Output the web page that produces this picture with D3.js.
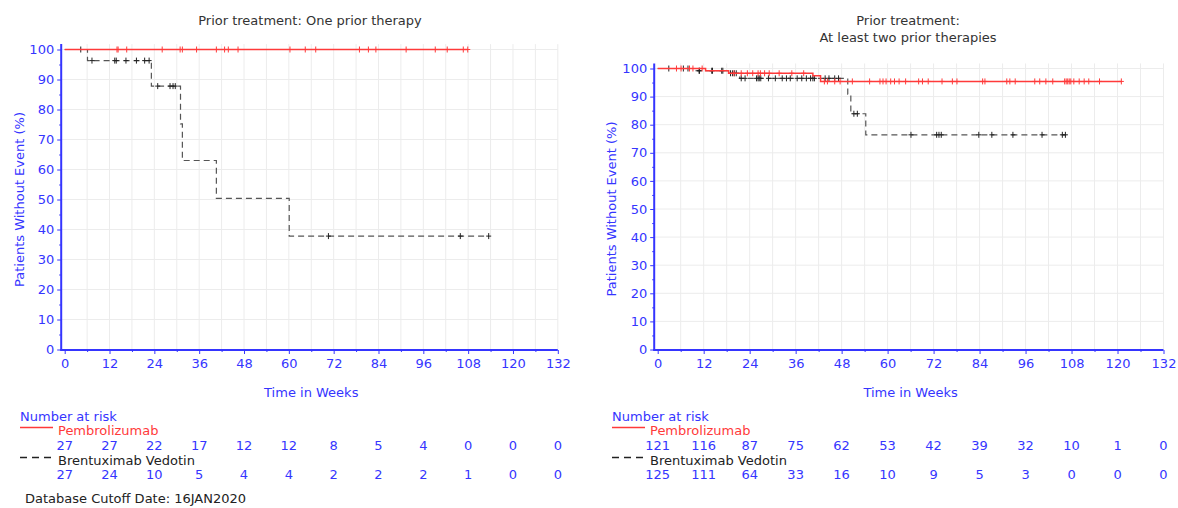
<!DOCTYPE html>
<html>
<head>
<meta charset="utf-8">
<script src="https://cdn.jsdelivr.net/npm/d3@7"></script>
<style>
  body{ margin:0; background:#fff; }
  svg{ display:block; }
  .tick text{ font-family:"DejaVu Sans", sans-serif; }
</style>
</head>
<body>
<svg id="chart" width="1178" height="508"></svg>
<script>
/* ---- datos ---- */
const timeTicks = [0,12,24,36,48,60,72,84,96,108,120,132];
const yTicks = [0,10,20,30,40,50,60,70,80,90,100];

// Panel 1: una terapia previa
const riskPembro1 = [27,27,22,17,12,12,8,5,4,0,0,0];
const riskBrent1  = [27,24,10,5,4,4,2,2,2,1,0,0];
const pembro1Steps = [[0,100]];
const pembro1End = 107.9;
const pembro1Censor = [14.0,14.3,16.6,26.1,30.9,31.5,35.3,40.6,42.8,43.8,46.4,60.3,64.4,67.2,78.9,81.3,83.3,91.4,99.2,102.4,106.7,107.9];
const brent1Steps = [[0,100],[6.1,96.3],[23.2,87.8],[31.0,75.2],[31.5,63.0],[40.6,50.4],[60.1,37.8]];
const brent1End = 113.5;
const brent1Censor = [4.3,7.3,13.4,13.8,16.4,19.2,21.4,22.6,24.9,28.2,29.0,29.6,70.6,105.9,113.5];

// Panel 2: al menos dos terapias previas
const riskPembro2 = [121,116,87,75,62,53,42,39,32,10,1,0];
const riskBrent2  = [125,111,64,33,16,10,9,5,3,0,0,0];
const pembro2Steps = [[0,100],[12.5,99.2],[18.5,98.3],[40.5,97.4],[42.5,95.4]];
const pembro2End = 121.0;
const pembro2Censor = [4.9,6.1,8.3,9.2,11.6,19.9,21.8,23.4,24.8,26.2,26.8,27.9,29.1,31.7,35.0,38.1,
  43.5,44.3,46.2,47.6,50.8,55.3,58.0,58.8,59.6,60.8,61.8,63.0,64.7,68.1,69.1,70.6,74.2,76.9,78.1,
  84.8,85.4,91.1,91.9,93.3,98.4,99.7,101.3,103.1,106.2,106.6,107.0,107.4,107.8,108.6,110.0,111.3,112.5,115.3,121.0];
const brent2Steps = [[0,100],[10.0,99.2],[18.5,98.3],[21.4,96.5],[49.6,90.9],[50.4,83.9],[54.3,76.4]];
const brent2End = 106.6;
const brent2Censor = [2.9,6.7,7.9,10.8,10.9,14.1,14.3,16.7,17.0,19.0,19.5,20.0,20.5,
  21.8,22.8,25.8,26.2,26.5,26.9,28.9,30.7,32.5,33.6,34.6,36.4,37.6,38.8,39.9,40.5,40.9,
  43.7,44.7,46.2,47.2,51.2,52.1,66.1,72.8,73.4,74.0,83.8,87.2,92.7,100.3,105.6,106.4];

/* ---- estilos ---- */
const BLUE = "#3535ff";
const RED = "#ff3a3a";
const DARK = "#555555";
const GRID = "#ececec";
const SANS = "DejaVu Sans, sans-serif";

const svg = d3.select("#chart");

const panels = [
  { title:["Prior treatment: One prior therapy"], titleX:310,
    xr:[64.7,557.8], yr:[349.5,49.5],
    legendX:20, riskP:riskPembro1, riskB:riskBrent1,
    pSteps:pembro1Steps, pEnd:pembro1End, pCens:pembro1Censor,
    bSteps:brent1Steps, bEnd:brent1End, bCens:brent1Censor },
  { title:["Prior treatment:","At least two prior therapies"], titleX:908,
    xr:[657.7,1163.5], yr:[349.5,68.5],
    legendX:612, riskP:riskPembro2, riskB:riskBrent2,
    pSteps:pembro2Steps, pEnd:pembro2End, pCens:pembro2Censor,
    bSteps:brent2Steps, bEnd:brent2End, bCens:brent2Censor }
];

/* valor de la curva escalonada en el tiempo t */
function stepValue(steps, t){
  let v = steps[0][1];
  for(const s of steps){ if(s[0] <= t) v = s[1]; }
  return v;
}

panels.forEach(p => {
  const x = d3.scaleLinear().domain([0,132]).range(p.xr);
  const y = d3.scaleLinear().domain([0,100]).range(p.yr);
  const yTop = y(101.8);
  const axX = x(0) - 3.5;
  const g = svg.append("g");

  // título
  const tt = g.append("text")
    .attr("x", p.titleX).attr("y", 25)
    .attr("text-anchor","middle")
    .style("font-family", SANS).style("font-size","13px").attr("fill","#333");
  p.title.forEach((line,i) => {
    tt.append("tspan").attr("x", p.titleX).attr("dy", i === 0 ? 0 : 16.5).text(line);
  });

  // rejilla
  g.append("g").selectAll("line").data(d3.range(6,133,6)).enter().append("line")
    .attr("x1", d => x(d)).attr("x2", d => x(d))
    .attr("y1", y(0)).attr("y2", yTop)
    .attr("stroke", GRID).attr("stroke-width",1);
  g.append("g").selectAll("line").data(yTicks.slice(1)).enter().append("line")
    .attr("x1", axX).attr("x2", x(132))
    .attr("y1", d => y(d)).attr("y2", d => y(d))
    .attr("stroke", GRID).attr("stroke-width",1);

  // eje Y
  const yAxis = g.append("g").attr("transform", `translate(${axX},0)`)
    .call(d3.axisLeft(y).tickValues(yTicks).tickSize(4).tickPadding(3));
  g.append("g").attr("transform", `translate(${axX},0)`)
    .call(d3.axisLeft(y).tickValues(d3.range(5,100,10)).tickSize(2).tickFormat(""))
    .select(".domain").remove();
  yAxis.select(".domain").remove();

  // eje X
  const xAxis = g.append("g").attr("transform", `translate(0,${y(0)+0.5})`)
    .call(d3.axisBottom(x).tickValues(timeTicks).tickSize(4).tickPadding(5));
  g.append("g").attr("transform", `translate(0,${y(0)+0.5})`)
    .call(d3.axisBottom(x).tickValues(d3.range(6,133,12)).tickSize(2).tickFormat(""))
    .select(".domain").remove();
  xAxis.select(".domain").remove();

  g.selectAll(".tick line").attr("stroke", BLUE);
  g.selectAll(".tick text").attr("fill", BLUE).style("font-size","13px");

  g.append("line").attr("x1",axX).attr("x2",axX).attr("y1",y(0)+1).attr("y2",yTop)
    .attr("stroke",BLUE).attr("stroke-width",2);
  g.append("line").attr("x1",axX-1).attr("x2",x(132)).attr("y1",y(0)+0.5).attr("y2",y(0)+0.5)
    .attr("stroke",BLUE).attr("stroke-width",2);

  // títulos de ejes
  const midY = (y(0) + y(100)) / 2;
  g.append("text")
    .attr("transform", `translate(${p.legendX - 1},${midY}) rotate(-90)`)
    .attr("text-anchor","middle").attr("dy","0.35em")
    .style("font-family",SANS).style("font-size","13px").attr("fill",BLUE)
    .text("Patients Without Event (%)");
  g.append("text")
    .attr("x", (x(0)+x(132))/2).attr("y", 397)
    .attr("text-anchor","middle")
    .style("font-family",SANS).style("font-size","13px").attr("fill",BLUE)
    .text("Time in Weeks");

  // curvas de Kaplan-Meier
  const line = d3.line().x(d => x(d[0])).y(d => y(d[1])).curve(d3.curveStepAfter);
  const series = [
    { steps:p.bSteps, end:p.bEnd, cens:p.bCens, color:DARK, dash:"6,4", w:1.2 },
    { steps:p.pSteps, end:p.pEnd, cens:p.pCens, color:RED, dash:null, w:1.5 }
  ];
  series.forEach(s => {
    const pts = s.steps.concat([[s.end, s.steps[s.steps.length-1][1]]]);
    g.append("path").attr("d", line(pts))
      .attr("fill","none").attr("stroke", s.color).attr("stroke-width", s.w)
      .attr("stroke-dasharray", s.dash);
    g.append("g").selectAll("path").data(s.cens).enter().append("path")
      .attr("transform", d => `translate(${x(d)},${y(stepValue(s.steps,d))})`)
      .attr("d","M-2.5,0H2.5M0,-3V3")
      .attr("stroke", s.color === RED ? RED : "#222").attr("stroke-width",1);
  });

  // tabla de pacientes en riesgo
  const lx = p.legendX;
  g.append("text").attr("x",lx).attr("y",421)
    .style("font-family",SANS).style("font-size","13px").attr("fill",BLUE)
    .text("Number at risk");
  g.append("line").attr("x1",lx).attr("x2",lx+33).attr("y1",427.5).attr("y2",427.5)
    .attr("stroke",RED).attr("stroke-width",1.5);
  g.append("text").attr("x",lx+38).attr("y",435)
    .style("font-family",SANS).style("font-size","13px").attr("fill",RED)
    .text("Pembrolizumab");
  g.append("line").attr("x1",lx).attr("x2",lx+33).attr("y1",457.5).attr("y2",457.5)
    .attr("stroke","#222").attr("stroke-width",1.5).attr("stroke-dasharray","7,5");
  g.append("text").attr("x",lx+38).attr("y",464.5)
    .style("font-family",SANS).style("font-size","13px").attr("fill","#222")
    .text("Brentuximab Vedotin");

  [[p.riskP, 450], [p.riskB, 479]].forEach(([vals, yy]) => {
    g.append("g").selectAll("text").data(vals).enter().append("text")
      .attr("x", (d,i) => x(timeTicks[i])).attr("y", yy)
      .attr("text-anchor","middle")
      .style("font-family",SANS).style("font-size","13px").attr("fill",BLUE)
      .text(d => d);
  });
});

svg.append("text").attr("x",25).attr("y",503)
  .style("font-family",SANS).style("font-size","13px").attr("fill","#222")
  .text("Database Cutoff Date: 16JAN2020");
</script>
</body>
</html>
